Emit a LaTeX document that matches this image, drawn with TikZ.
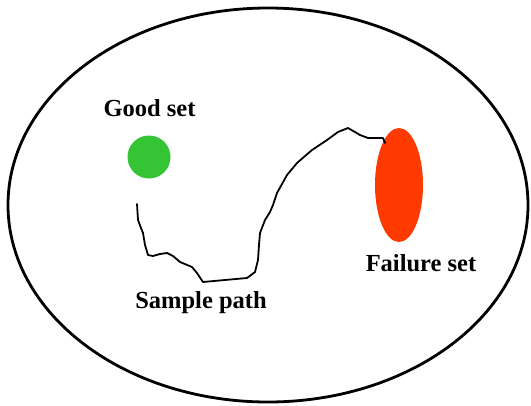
\documentclass[tikz,border=0pt]{standalone}
\usepackage{fontspec}
\setmainfont{Liberation Serif}[BoldFont={Liberation Serif Bold}]
\usetikzlibrary{shapes.geometric}
\definecolor{goodgreen}{RGB}{52,196,52}
\definecolor{failred}{RGB}{255,58,0}
\tikzset{
  lbl/.style={font=\rmfamily\bfseries\fontsize{24.5}{24.5}\selectfont, anchor=base, inner sep=0pt},
  walk/.style={line width=1.8pt, line join=round, line cap=round}
}
\begin{document}
\begin{tikzpicture}[x=1pt,y=-1pt]
\useasboundingbox (0,0) rectangle (531,405);
\fill[white] (0,0) rectangle (531,405);
% outer space
\draw[line width=2.8pt] (268,205) ellipse [x radius=260, y radius=197];
% good set
\node[circle, fill=goodgreen, minimum size=43pt, inner sep=0pt] (good) at (149,157) {};
\node[lbl] (goodlbl) at (149.5,116) {Good set};
% failure set
\node[ellipse, fill=failred, minimum width=48pt, minimum height=114pt, inner sep=0pt] (fail) at (399,185) {};
\node[lbl] (faillbl) at (421,271) {Failure set};
% sample path
\coordinate (pstart) at (137,204);
\coordinate (pend) at (385,143);
\draw[walk] (pstart) -- (138,220) -- (141,228) -- (143,233) -- (145,245) -- (148,255) -- (153,256)
  -- (160,254) -- (167,253) -- (173,256) -- (180,262) -- (192,267) -- (197,273) -- (203,282)
  -- (225,280) -- (247,278) -- (255,272) -- (258,260) -- (259,245) -- (260,233) -- (265,220)
  -- (270,212) -- (273,205) -- (277,193) -- (287,175) -- (297,163) -- (312,150) -- (327,140)
  -- (338,132) -- (348,128) -- (355,132) -- (360,135) -- (368,138) -- (383,138) -- (pend);
\node[lbl] (pathlbl) at (201,308) {Sample path};
\end{tikzpicture}
\end{document}
